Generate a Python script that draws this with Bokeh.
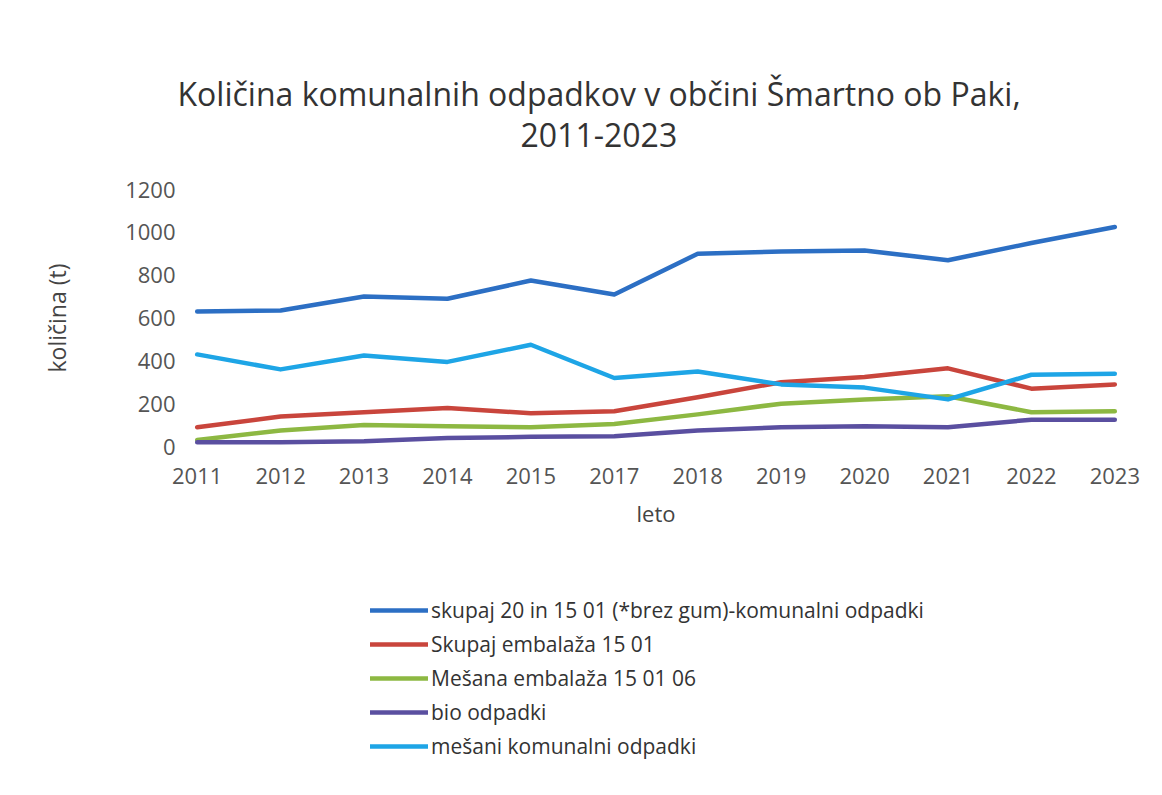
from bokeh.plotting import figure
from bokeh.models import FactorRange, Range1d, Legend, LegendItem, Title
from bokeh.layouts import column
from bokeh.embed import file_html
from bokeh.resources import INLINE

years = ["2011", "2012", "2013", "2014", "2015", "2017", "2018", "2019", "2020", "2021", "2022", "2023"]
skupaj = [630, 635, 700, 690, 775, 710, 900, 910, 915, 870, 950, 1025]
embalaza = [90, 140, 160, 180, 155, 165, 230, 300, 325, 365, 270, 290]
mesana_emb = [30, 75, 100, 95, 90, 105, 150, 200, 220, 235, 160, 165]
bio = [20, 20, 25, 40, 45, 48, 75, 90, 95, 90, 125, 125]
mesani_kom = [430, 360, 425, 395, 475, 320, 350, 290, 275, 220, 335, 340]
y_ticks = [0, 200, 400, 600, 800, 1000, 1200]

names = ["skupaj 20 in 15 01 (*brez gum)-komunalni odpadki", "Skupaj embalaža 15 01",
         "Mešana embalaža 15 01 06", "bio odpadki", "mešani komunalni odpadki"]
series = [skupaj, embalaza, mesana_emb, bio, mesani_kom]
colors = ["#2C6FC4", "#C9453C", "#8DB842", "#5A4FA0", "#1EA5E6"]

FONT = "Open Sans"

# main chart
p = figure(frame_width=951, frame_height=257, output_backend="svg", toolbar_location=None,
           x_range=FactorRange(*years, range_padding=-0.3, range_padding_units="absolute"),
           y_range=Range1d(0, 1200),
           min_border_left=180, min_border_right=23, min_border_top=189, min_border_bottom=100)
p.outline_line_color = None
p.xgrid.grid_line_color = None
p.ygrid.grid_line_color = None

t2 = Title(text="2011-2023", align="left", offset=340, standoff=85,
           text_font=FONT, text_font_size="32px", text_font_style="normal", text_color="#333333")
t1 = Title(text="Količina komunalnih odpadkov v občini Šmartno ob Paki,", align="left", offset=-3,
           standoff=-73, text_font=FONT, text_font_size="32px", text_font_style="normal",
           text_color="#333333")
p.add_layout(t2, "above")
p.add_layout(t1, "above")

for name, vals, c in zip(names, series, colors):
    p.line(years, vals, line_color=c, line_width=4.5, line_cap="round", line_join="round")

for ax in (p.xaxis[0], p.yaxis[0]):
    ax.axis_line_color = None
    ax.major_tick_line_color = None
    ax.minor_tick_line_color = None
    ax.major_tick_out = 0
    ax.major_tick_in = 0
    ax.minor_tick_out = 0
    ax.minor_tick_in = 0
    ax.major_label_text_font = FONT
    ax.major_label_text_font_size = "22px"
    ax.major_label_text_color = "#555555"
    ax.axis_label_text_font = FONT
    ax.axis_label_text_font_style = "normal"
    ax.axis_label_text_color = "#444444"

p.yaxis.ticker = y_ticks
p.yaxis.axis_label = "količina (t)"
p.yaxis.axis_label_text_font_size = "23px"
p.yaxis.major_label_standoff = 5
p.yaxis.axis_label_standoff = 49
p.xaxis.axis_label = "leto"
p.xaxis.axis_label_text_font_size = "22px"
p.xaxis.major_label_standoff = 21
p.xaxis.axis_label_standoff = 11

# legend panel below the chart (series drawn out of view, only their legend samples show)
lg = figure(width=1154, height=241, output_backend="svg", toolbar_location=None,
            x_range=FactorRange(*years), y_range=Range1d(5000, 6000),
            min_border=0, x_axis_type=None, y_axis_type=None)
lg.outline_line_color = None
lg.xgrid.grid_line_color = None
lg.ygrid.grid_line_color = None

items = []
for name, vals, c in zip(names, series, colors):
    r = lg.line(years, vals, line_color=c, line_width=4.5, line_cap="round")
    items.append(LegendItem(label=name, renderers=[r]))

legend = Legend(items=items, location=(190, 27), orientation="vertical",
                label_text_font=FONT, label_text_font_size="21px", label_text_color="#333333",
                glyph_width=58, glyph_height=24, label_height=24, label_standoff=3,
                spacing=6, padding=0, margin=0, border_line_color=None,
                background_fill_alpha=0)
lg.add_layout(legend, "center")

open("out.html", "w").write(file_html(column(p, lg, spacing=0), INLINE))
